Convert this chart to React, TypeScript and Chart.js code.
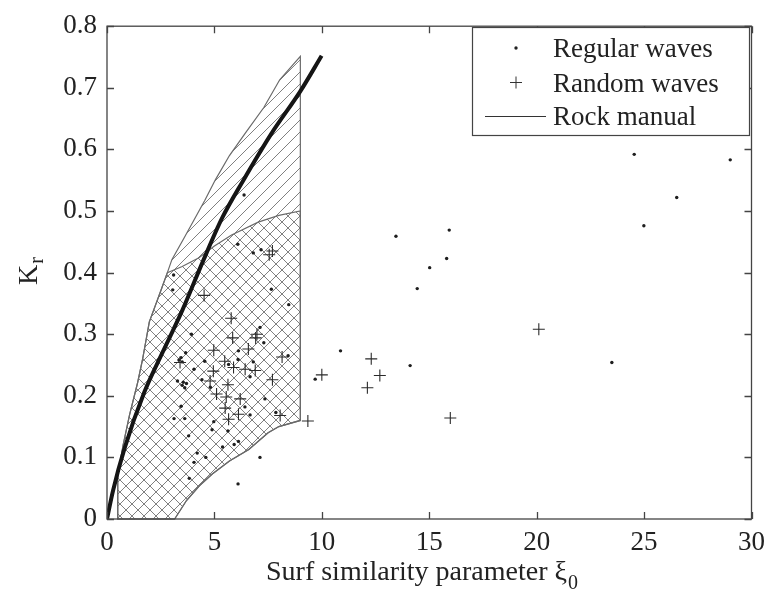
import React, { useEffect, useRef } from 'react';
import { Chart, registerables } from 'chart.js';
Chart.register(...registerables);

// ---- data ----
const regularX = [3.10, 3.06, 6.38, 6.09, 6.81, 7.17, 7.65, 8.46, 7.12, 3.93, 7.30, 6.12, 3.66, 3.35, 3.50, 3.45, 4.05, 5.66, 6.10, 6.81, 8.43, 4.55, 6.66, 4.42, 3.50, 3.62, 3.70, 3.55, 3.28, 4.81, 7.35, 3.45, 6.42, 3.12, 3.62, 6.66, 7.86, 4.97, 3.80, 4.89, 5.63, 6.12, 5.92, 5.38, 4.20, 4.60, 4.05, 7.12, 3.83, 6.10, 9.69, 10.87, 13.45, 15.93, 15.81, 15.02, 14.44, 14.11, 24.54, 29.01, 26.52, 24.99, 23.50];
const regularY = [0.396, 0.372, 0.526, 0.446, 0.432, 0.437, 0.373, 0.348, 0.311, 0.300, 0.286, 0.273, 0.270, 0.258, 0.255, 0.262, 0.243, 0.251, 0.259, 0.255, 0.265, 0.256, 0.231, 0.226, 0.217, 0.213, 0.220, 0.222, 0.224, 0.214, 0.195, 0.183, 0.182, 0.163, 0.163, 0.169, 0.173, 0.158, 0.135, 0.145, 0.143, 0.126, 0.121, 0.117, 0.107, 0.100, 0.092, 0.100, 0.066, 0.057, 0.227, 0.273, 0.459, 0.469, 0.423, 0.408, 0.374, 0.249, 0.592, 0.583, 0.522, 0.476, 0.254];

const randomX = [4.52, 5.78, 5.85, 6.92, 6.98, 4.97, 6.58, 8.15, 5.48, 3.40, 5.89, 4.95, 6.43, 6.90, 7.70, 4.80, 5.63, 5.10, 5.55, 6.20, 5.50, 6.12, 5.66, 8.06, 9.35, 10.00, 7.55, 7.70, 12.30, 12.70, 12.12, 15.98, 20.10];
const randomY = [0.363, 0.326, 0.294, 0.294, 0.300, 0.274, 0.276, 0.263, 0.256, 0.254, 0.246, 0.240, 0.243, 0.241, 0.226, 0.224, 0.218, 0.203, 0.198, 0.195, 0.180, 0.170, 0.162, 0.168, 0.159, 0.234, 0.429, 0.435, 0.260, 0.233, 0.213, 0.164, 0.308];

const rockX = [0, 0.28, 0.82, 1.74, 2.58, 3.51, 4.45, 5.35, 6.35, 7.66, 9.01, 9.99];
const rockY = [0, 0.046, 0.115, 0.206, 0.270, 0.339, 0.417, 0.488, 0.550, 0.626, 0.695, 0.752];

// outer (single diagonal hatch) region
const outerX = [0.5, 0.5, 0.75, 1.05, 1.43, 1.66, 1.97, 2.5, 2.81, 3.02, 3.6, 4.55, 5.05, 5.7, 6.43, 7.3, 8.04, 9.0, 9.0, 8.0, 7.5, 6.6, 5.7, 4.9, 4.3, 3.7, 3.15];
const outerY = [0, 0.07, 0.12, 0.169, 0.222, 0.26, 0.32, 0.37, 0.40, 0.421, 0.457, 0.517, 0.551, 0.59, 0.626, 0.668, 0.713, 0.751, 0.16, 0.15, 0.14, 0.113, 0.094, 0.073, 0.054, 0.03, 0];
// cross-hatched region
const crossX = [0.5, 0.5, 0.75, 1.05, 1.43, 1.66, 1.97, 2.5, 2.81, 3.5, 4.28, 5.0, 5.8, 7.04, 8.0, 9.0, 9.0, 8.0, 7.5, 6.6, 5.7, 4.9, 4.3, 3.7, 3.15];
const crossY = [0, 0.07, 0.12, 0.169, 0.222, 0.26, 0.32, 0.37, 0.40, 0.41, 0.424, 0.443, 0.461, 0.482, 0.493, 0.50, 0.16, 0.15, 0.14, 0.113, 0.094, 0.073, 0.054, 0.03, 0];

const xTicks = [0, 5, 10, 15, 20, 25, 30];
const yTicks = [0, 0.1, 0.2, 0.3, 0.4, 0.5, 0.6, 0.7, 0.8];

const legendLabels = ['Regular waves', 'Random waves', 'Rock manual'];
const xTitle = 'Surf similarity parameter \u03BE';
const xTitleSub = '0';
const yTitle = 'K';
const yTitleSub = 'r';

const SERIF = '"Liberation Serif", "Times New Roman", serif';
const INK = '#222';

function polyPath(ctx: CanvasRenderingContext2D, chart: any, xs: number[], ys: number[]) {
  const sx = chart.scales.x, sy = chart.scales.y;
  ctx.beginPath();
  xs.forEach((x, i) => {
    const px = sx.getPixelForValue(x), py = sy.getPixelForValue(ys[i]);
    if (i === 0) ctx.moveTo(px, py); else ctx.lineTo(px, py);
  });
  ctx.closePath();
}

function hatchLines(ctx: CanvasRenderingContext2D, dir: number, spacing: number) {
  ctx.beginPath();
  for (let c = -900; c < 1800; c += spacing) {
    if (dir > 0) { ctx.moveTo(c, 0); ctx.lineTo(c - 700, 700); }
    else { ctx.moveTo(c, 0); ctx.lineTo(c + 700, 700); }
  }
  ctx.stroke();
}

const hatchPlugin = {
  id: 'hatch',
  beforeDatasetsDraw(chart: any) {
    const ctx = chart.ctx as CanvasRenderingContext2D;
    ctx.save();
    ctx.strokeStyle = '#808080';
    ctx.lineWidth = 1;
    ctx.save();
    polyPath(ctx, chart, outerX, outerY);
    ctx.clip();
    hatchLines(ctx, 1, 12);
    ctx.restore();
    ctx.save();
    polyPath(ctx, chart, crossX, crossY);
    ctx.clip();
    hatchLines(ctx, -1, 12);
    ctx.restore();
    ctx.strokeStyle = '#6a6a6a';
    ctx.lineWidth = 1.2;
    polyPath(ctx, chart, outerX, outerY);
    ctx.stroke();
    polyPath(ctx, chart, crossX, crossY);
    ctx.stroke();
    ctx.restore();
  },
};

const framePlugin = {
  id: 'frame',
  afterDraw(chart: any) {
    const ctx = chart.ctx as CanvasRenderingContext2D;
    const a = chart.chartArea;
    const sx = chart.scales.x, sy = chart.scales.y;
    ctx.save();
    ctx.strokeStyle = '#444';
    ctx.lineWidth = 1.3;
    ctx.strokeRect(a.left, a.top, a.right - a.left, a.bottom - a.top);
    const L = 7;
    ctx.beginPath();
    xTicks.forEach((t) => {
      const px = Math.round(sx.getPixelForValue(t)) + 0.5;
      ctx.moveTo(px, a.bottom); ctx.lineTo(px, a.bottom - L);
      ctx.moveTo(px, a.top); ctx.lineTo(px, a.top + L);
    });
    yTicks.forEach((t) => {
      const py = Math.round(sy.getPixelForValue(t)) + 0.5;
      ctx.moveTo(a.left, py); ctx.lineTo(a.left + L, py);
      ctx.moveTo(a.right, py); ctx.lineTo(a.right - L, py);
    });
    ctx.stroke();

    // axis titles
    ctx.fillStyle = INK;
    ctx.textBaseline = 'alphabetic';
    ctx.textAlign = 'left';
    ctx.font = `28px ${SERIF}`;
    const tx = 266, ty = 580;
    ctx.fillText(xTitle, tx, ty);
    const w = ctx.measureText(xTitle).width;
    ctx.font = `20px ${SERIF}`;
    ctx.fillText(xTitleSub, tx + w + 1, ty + 9);

    ctx.save();
    ctx.translate(37, 285);
    ctx.rotate(-Math.PI / 2);
    ctx.font = `28px ${SERIF}`;
    ctx.fillText(yTitle, 0, 0);
    const kw = ctx.measureText(yTitle).width;
    ctx.font = `20px ${SERIF}`;
    ctx.fillText(yTitleSub, kw + 1, 6);
    ctx.restore();

    // legend
    const bx = 472.5, by = 27.5, bw = 277, bh = 108;
    ctx.fillStyle = '#fff';
    ctx.fillRect(bx, by, bw, bh);
    ctx.strokeStyle = '#444';
    ctx.lineWidth = 1.2;
    ctx.strokeRect(bx, by, bw, bh);
    ctx.fillStyle = INK;
    ctx.beginPath();
    ctx.arc(516, 48, 1.7, 0, Math.PI * 2);
    ctx.fill();
    ctx.strokeStyle = '#333';
    ctx.lineWidth = 1;
    ctx.beginPath();
    ctx.moveTo(510, 82.5); ctx.lineTo(522, 82.5);
    ctx.moveTo(516, 76.5); ctx.lineTo(516, 88.5);
    ctx.moveTo(485, 116.5); ctx.lineTo(546, 116.5);
    ctx.stroke();
    ctx.font = `27px ${SERIF}`;
    ctx.fillText(legendLabels[0], 553, 57);
    ctx.fillText(legendLabels[1], 553, 92);
    ctx.fillText(legendLabels[2], 553, 125);
    ctx.restore();
  },
};

export default function App() {
  const ref = useRef<HTMLCanvasElement | null>(null);
  useEffect(() => {
    if (!ref.current) return;
    const chart = new Chart(ref.current, {
      type: 'scatter',
      data: {
        datasets: [
          {
            label: 'Rock manual',
            data: rockX.map((x, i) => ({ x, y: rockY[i] })),
            showLine: true,
            borderColor: '#151515',
            borderWidth: 4,
            pointRadius: 0,
            cubicInterpolationMode: 'monotone',
            order: 3,
          } as any,
          {
            label: 'Regular waves',
            data: regularX.map((x, i) => ({ x, y: regularY[i] })),
            pointStyle: 'circle',
            pointRadius: 1.7,
            backgroundColor: '#1e1e1e',
            borderColor: '#1e1e1e',
            borderWidth: 0,
            order: 2,
          },
          {
            label: 'Random waves',
            data: randomX.map((x, i) => ({ x, y: randomY[i] })),
            pointStyle: 'cross',
            pointRadius: 6,
            borderColor: '#2a2a2a',
            borderWidth: 1.1,
            order: 1,
          },
        ],
      },
      options: {
        animation: false,
        responsive: false,
        maintainAspectRatio: false,
        layout: { padding: { top: 17, right: 15, left: 0, bottom: 0 } },
        plugins: { legend: { display: false }, tooltip: { enabled: false } },
        scales: {
          x: {
            type: 'linear',
            min: 0,
            max: 30,
            afterFit: (s: any) => { s.height = 74; },
            afterBuildTicks: (s: any) => { s.ticks = xTicks.map((v) => ({ value: v })); },
            ticks: {
              padding: 8,
              color: INK,
              font: { family: SERIF, size: 27 },
              maxRotation: 0,
              callback: (v: any) => String(v),
            },
            grid: { display: false, drawTicks: false },
            border: { display: false },
          },
          y: {
            type: 'linear',
            min: 0,
            max: 0.8,
            afterFit: (s: any) => { s.width = 107; },
            afterBuildTicks: (s: any) => { s.ticks = yTicks.map((v) => ({ value: v })); },
            ticks: {
              padding: 10,
              color: INK,
              font: { family: SERIF, size: 27 },
              callback: (v: any) => (Number(v) === 0 ? '0' : Number(v).toFixed(1)),
            },
            grid: { display: false, drawTicks: false },
            border: { display: false },
          },
        },
      },
      plugins: [hatchPlugin, framePlugin],
    });
    return () => chart.destroy();
  }, []);
  return (
    <div style={{ position: 'fixed', left: 0, top: 0, width: 773, height: 593, background: '#fff' }}>
      <canvas ref={ref} width={773} height={593} style={{ width: 773, height: 593, display: 'block' }} />
    </div>
  );
}
